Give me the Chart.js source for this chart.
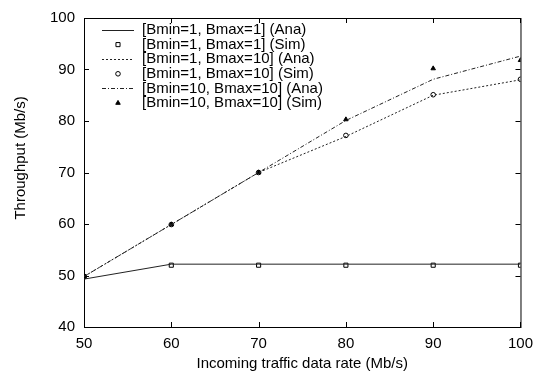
<!DOCTYPE html>
<html>
<head>
<meta charset="utf-8">
<script src="https://cdn.jsdelivr.net/npm/chart.js@4.4.1/dist/chart.umd.min.js"></script>
<style>
  body { margin: 0; background: #fff; }
  #chart { display: block; }
</style>
</head>
<body>
<canvas id="chart" width="541" height="375"></canvas>
<script>
  // data
  var rates = [50, 60, 70, 80, 90, 100];
  var ana1 = [49.3, 52.2, 52.2, 52.2, 52.2, 52.2];
  var sim1 = [49.8, 52, 52, 52, 52, 52];
  var ana2 = [49.8, 59.9, 70, 77, 85, 88];
  var sim2 = [49.8, 59.9, 70, 77.2, 85.1, 88.1];
  var ana3 = [49.8, 59.9, 70, 80.1, 88.1, 92.6];
  var sim3 = [49.8, 59.9, 70, 80.3, 90.2, 91.8];
  var yTicks = [40, 50, 60, 70, 80, 90, 100];
  var xTicks = [50, 60, 70, 80, 90, 100];

  var FONT = 'Liberation Sans, Arial, Helvetica, sans-serif';

  function pts(vals){
    var out = [];
    for (var i = 0; i < rates.length; i++) out.push({x: rates[i], y: vals[i]});
    return out;
  }

  function anaSet(label, vals, dash){
    return {
      label: label, data: pts(vals), showLine: true,
      borderColor: '#222', borderWidth: 1, borderDash: dash,
      pointRadius: 0, pointHoverRadius: 0, fill: false
    };
  }
  function simSet(label, vals, style, radius, fillCol){
    return {
      label: label, data: pts(vals), showLine: false,
      pointStyle: style, pointRadius: radius, pointBorderWidth: 1,
      pointBorderColor: '#000', pointBackgroundColor: fillCol,
      borderColor: '#000', backgroundColor: fillCol
    };
  }

  // box around the plot with inward ticks on all four sides
  var framePlugin = {
    id: 'frame',
    beforeDatasetsDraw: function(chart){
      var ctx = chart.ctx, a = chart.chartArea;
      var xs = chart.scales.x, ys = chart.scales.y;
      ctx.save();
      ctx.strokeStyle = '#000';
      ctx.lineWidth = 1;
      ctx.strokeRect(a.left + 0.5, a.top + 0.5, a.right - a.left, a.bottom - a.top);
      ctx.beginPath();
      xTicks.forEach(function(v){
        var px = Math.round(xs.getPixelForValue(v)) + 0.5;
        ctx.moveTo(px, a.bottom); ctx.lineTo(px, a.bottom - 5);
        ctx.moveTo(px, a.top); ctx.lineTo(px, a.top + 5);
      });
      yTicks.forEach(function(v){
        var py = Math.round(ys.getPixelForValue(v)) + 0.5;
        ctx.moveTo(a.left, py); ctx.lineTo(a.left + 5, py);
        ctx.moveTo(a.right, py); ctx.lineTo(a.right - 5, py);
      });
      ctx.stroke();
      ctx.restore();
    }
  };

  // gnuplot-like key inside the plot, top left
  var keyPlugin = {
    id: 'key',
    afterDraw: function(chart){
      var ctx = chart.ctx, a = chart.chartArea;
      var x0 = a.left + 18, x1 = a.left + 50, tx = a.left + 58;
      var y = a.top + 12;
      ctx.save();
      ctx.font = '15px ' + FONT;
      ctx.textBaseline = 'middle';
      ctx.textAlign = 'left';
      chart.data.datasets.forEach(function(ds){
        ctx.strokeStyle = ds.borderColor;
        ctx.lineWidth = 1;
        if (ds.showLine) {
          ctx.setLineDash(ds.borderDash || []);
          ctx.beginPath();
          ctx.moveTo(x0, Math.round(y) + 0.5); ctx.lineTo(x1, Math.round(y) + 0.5);
          ctx.stroke();
          ctx.setLineDash([]);
        } else {
          ctx.fillStyle = ds.pointBackgroundColor;
          Chart.helpers.drawPoint(ctx, {pointStyle: ds.pointStyle, radius: ds.pointRadius, borderWidth: 1}, (x0 + x1) / 2, y);
        }
        ctx.fillStyle = '#000';
        ctx.fillText(ds.label, tx, y);
        y += 14.6;
      });
      ctx.restore();
    }
  };

  var ctx = document.getElementById('chart');
  var chart = new Chart(ctx, {
    type: 'scatter',
    data: {
      datasets: [
        anaSet('[Bmin=1, Bmax=1] (Ana)', ana1, []),
        simSet('[Bmin=1, Bmax=1] (Sim)', sim1, 'rect', 2.9, 'rgba(255,255,255,0)'),
        anaSet('[Bmin=1, Bmax=10] (Ana)', ana2, [2, 2]),
        simSet('[Bmin=1, Bmax=10] (Sim)', sim2, 'circle', 2.3, 'rgba(255,255,255,0)'),
        anaSet('[Bmin=10, Bmax=10] (Ana)', ana3, [4, 2, 1, 2]),
        simSet('[Bmin=10, Bmax=10] (Sim)', sim3, 'triangle', 2.6, '#000')
      ]
    },
    options: {
      responsive: false,
      animation: false,
      layout: { padding: { top: 14, right: 20, left: 0, bottom: 0 } },
      plugins: {
        legend: { display: false },
        tooltip: { enabled: false }
      },
      scales: {
        x: {
          type: 'linear', min: 50, max: 100,
          afterFit: function(s){ s.height = 48; },
          afterBuildTicks: function(s){ s.ticks = xTicks.map(function(v){ return {value: v}; }); },
          grid: { display: false, drawTicks: false },
          border: { display: false },
          ticks: { color: '#000', padding: 8, font: { family: FONT, size: 15 } },
          title: { display: true, text: 'Incoming traffic data rate (Mb/s)', color: '#000',
                   padding: { top: 0, bottom: 2 }, font: { family: FONT, size: 15 } }
        },
        y: {
          min: 40, max: 100,
          afterFit: function(s){ s.width = 84; },
          afterBuildTicks: function(s){ s.ticks = yTicks.map(function(v){ return {value: v}; }); },
          grid: { display: false, drawTicks: false },
          border: { display: false },
          ticks: { color: '#000', padding: 9, font: { family: FONT, size: 15 } },
          // leading spaces push the title a little up, as in the original
          title: { display: true, text: '       Throughput (Mb/s)', color: '#000',
                   padding: { top: 12, bottom: 0 }, font: { family: FONT, size: 15 } }
        }
      }
    },
    plugins: [framePlugin, keyPlugin]
  });
</script>
</body>
</html>
